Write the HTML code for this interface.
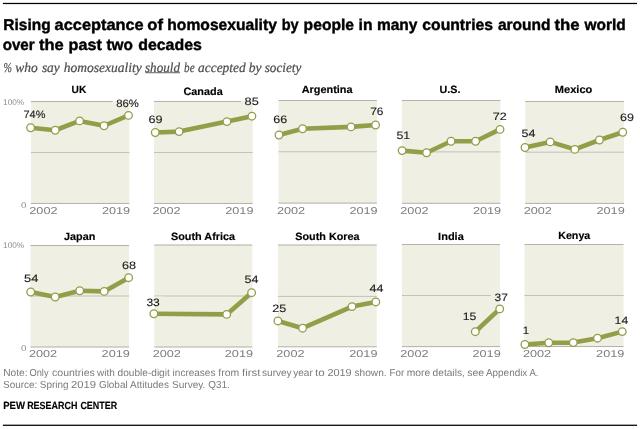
<!DOCTYPE html>
<html lang="en"><head><meta charset="utf-8"><title>Rising acceptance of homosexuality</title>
<style>html,body{margin:0;padding:0;background:#fff}body{width:640px;height:429px;overflow:hidden}svg{display:block;will-change:transform;filter:grayscale(0)}text{font-family:"Liberation Sans",sans-serif;text-rendering:geometricPrecision}.sf{font-family:"Liberation Serif",serif}</style></head><body>
<svg width="640" height="429" viewBox="0 0 640 429">
<rect x="0" y="0" width="640" height="429" fill="#ffffff"/>
<rect x="2.9" y="2.85" width="634.1" height="1.25" fill="#000"/>
<rect x="2.9" y="424.65" width="634.1" height="1.25" fill="#000"/>
<text y="29.7" font-size="15.7" font-weight="bold" fill="#000" stroke="#000" stroke-width="0.4" lengthAdjust="spacingAndGlyphs"><tspan x="3.30" textLength="47.30" lengthAdjust="spacingAndGlyphs">Rising</tspan> <tspan x="54.60" textLength="89.10" lengthAdjust="spacingAndGlyphs">acceptance</tspan> <tspan x="147.30" textLength="15.70" lengthAdjust="spacingAndGlyphs">of</tspan> <tspan x="167.30" textLength="109.55" lengthAdjust="spacingAndGlyphs">homosexuality</tspan> <tspan x="281.70" textLength="17.00" lengthAdjust="spacingAndGlyphs">by</tspan> <tspan x="303.60" textLength="50.50" lengthAdjust="spacingAndGlyphs">people</tspan> <tspan x="358.60" textLength="13.90" lengthAdjust="spacingAndGlyphs">in</tspan> <tspan x="376.95" textLength="40.55" lengthAdjust="spacingAndGlyphs">many</tspan> <tspan x="422.30" textLength="70.80" lengthAdjust="spacingAndGlyphs">countries</tspan> <tspan x="497.95" textLength="52.65" lengthAdjust="spacingAndGlyphs">around</tspan> <tspan x="554.45" textLength="25.15" lengthAdjust="spacingAndGlyphs">the</tspan> <tspan x="584.45" textLength="41.25" lengthAdjust="spacingAndGlyphs">world</tspan></text>
<text y="49.7" font-size="15.7" font-weight="bold" fill="#000" stroke="#000" stroke-width="0.4" lengthAdjust="spacingAndGlyphs"><tspan x="2.70" textLength="31.90" lengthAdjust="spacingAndGlyphs">over</tspan> <tspan x="38.95" textLength="24.75" lengthAdjust="spacingAndGlyphs">the</tspan> <tspan x="68.60" textLength="33.25" lengthAdjust="spacingAndGlyphs">past</tspan> <tspan x="106.50" textLength="26.50" lengthAdjust="spacingAndGlyphs">two</tspan> <tspan x="138.20" textLength="63.65" lengthAdjust="spacingAndGlyphs">decades</tspan></text>
<text y="71.6" class="sf" font-size="13.7" font-style="italic" fill="#4c4c4c" stroke="#4c4c4c" stroke-width="0.22" lengthAdjust="spacingAndGlyphs"><tspan x="3.60" textLength="8.40" lengthAdjust="spacingAndGlyphs">%</tspan> <tspan x="15.30" textLength="22.50" lengthAdjust="spacingAndGlyphs">who</tspan> <tspan x="41.90" textLength="17.80" lengthAdjust="spacingAndGlyphs">say</tspan> <tspan x="63.70" textLength="78.00" lengthAdjust="spacingAndGlyphs">homosexuality</tspan> <tspan x="145.00" textLength="35.00" lengthAdjust="spacingAndGlyphs">should</tspan> <tspan x="184.10" textLength="10.50" lengthAdjust="spacingAndGlyphs">be</tspan> <tspan x="198.10" textLength="47.50" lengthAdjust="spacingAndGlyphs">accepted</tspan> <tspan x="248.80" textLength="12.80" lengthAdjust="spacingAndGlyphs">by</tspan> <tspan x="264.70" textLength="36.60" lengthAdjust="spacingAndGlyphs">society</tspan></text>
<rect x="145.2" y="72.3" width="34.8" height="0.9" fill="#505050"/>
<g>
<rect x="30.9" y="101.5" width="98.50" height="101.95" fill="#f0efe4"/>
<rect x="30.9" y="100.98" width="98.50" height="1.04" fill="#b3b3a9"/>
<rect x="30.9" y="151.98" width="98.50" height="1.04" fill="#c3c3b9"/>
<rect x="30.9" y="202.93" width="98.50" height="1.04" fill="#b3b3a9"/>
<text x="71.60" y="93.20" font-size="10.6" font-weight="bold" fill="#000" stroke="#000" stroke-width="0.15" textLength="14.75" lengthAdjust="spacingAndGlyphs">UK</text>
<text x="29.30" y="214.20" font-size="10" fill="#7d7d7d" textLength="28.2" lengthAdjust="spacingAndGlyphs">2002</text>
<text x="101.90" y="214.20" font-size="10" fill="#7d7d7d" textLength="28.2" lengthAdjust="spacingAndGlyphs">2019</text>
<rect x="30.90" y="108.30" width="18.10" height="11.50" fill="#f0efe4"/>
<rect x="112.60" y="100.90" width="16.80" height="8.00" fill="#f0efe4"/>
<path d="M30.60 127.75 L55.25 130.25 L79.60 120.90 L104.05 125.75 L128.50 115.40" fill="none" stroke="#949d48" stroke-width="4.6" stroke-linejoin="round" stroke-linecap="round"/>
<circle cx="30.60" cy="127.75" r="3.8" fill="#fff" stroke="#949d48" stroke-width="1.3"/>
<circle cx="55.25" cy="130.25" r="3.8" fill="#fff" stroke="#949d48" stroke-width="1.3"/>
<circle cx="79.60" cy="120.90" r="3.8" fill="#fff" stroke="#949d48" stroke-width="1.3"/>
<circle cx="104.05" cy="125.75" r="3.8" fill="#fff" stroke="#949d48" stroke-width="1.3"/>
<circle cx="128.50" cy="115.40" r="3.8" fill="#fff" stroke="#949d48" stroke-width="1.3"/>
<text x="23.50" y="117.80" font-size="10.7" fill="#1a1a1a" stroke="#1a1a1a" stroke-width="0.12" textLength="21.90" lengthAdjust="spacingAndGlyphs">74%</text>
<text x="116.20" y="106.90" font-size="10.7" fill="#1a1a1a" stroke="#1a1a1a" stroke-width="0.12" textLength="22.70" lengthAdjust="spacingAndGlyphs">86%</text>
</g>
<g>
<rect x="154.05" y="101.45" width="98.70" height="102.00" fill="#f0efe4"/>
<rect x="154.05" y="100.93" width="98.70" height="1.04" fill="#b3b3a9"/>
<rect x="154.05" y="151.98" width="98.70" height="1.04" fill="#c3c3b9"/>
<rect x="154.05" y="202.93" width="98.70" height="1.04" fill="#b3b3a9"/>
<text x="183.50" y="94.60" font-size="10.6" font-weight="bold" fill="#000" stroke="#000" stroke-width="0.15" textLength="39.20" lengthAdjust="spacingAndGlyphs">Canada</text>
<text x="152.45" y="214.20" font-size="10" fill="#7d7d7d" textLength="28.2" lengthAdjust="spacingAndGlyphs">2002</text>
<text x="225.25" y="214.20" font-size="10" fill="#7d7d7d" textLength="28.2" lengthAdjust="spacingAndGlyphs">2019</text>
<rect x="154.05" y="113.30" width="12.20" height="11.50" fill="#f0efe4"/>
<rect x="241.00" y="100.85" width="11.75" height="5.90" fill="#f0efe4"/>
<path d="M155.25 132.50 L179.10 131.60 L226.90 121.60 L251.90 116.20" fill="none" stroke="#949d48" stroke-width="4.6" stroke-linejoin="round" stroke-linecap="round"/>
<circle cx="155.25" cy="132.50" r="3.8" fill="#fff" stroke="#949d48" stroke-width="1.3"/>
<circle cx="179.10" cy="131.60" r="3.8" fill="#fff" stroke="#949d48" stroke-width="1.3"/>
<circle cx="226.90" cy="121.60" r="3.8" fill="#fff" stroke="#949d48" stroke-width="1.3"/>
<circle cx="251.90" cy="116.20" r="3.8" fill="#fff" stroke="#949d48" stroke-width="1.3"/>
<text x="148.60" y="122.80" font-size="10.7" fill="#1a1a1a" stroke="#1a1a1a" stroke-width="0.12" textLength="14.05" lengthAdjust="spacingAndGlyphs">69</text>
<text x="244.60" y="104.75" font-size="10.7" fill="#1a1a1a" stroke="#1a1a1a" stroke-width="0.12" textLength="14.20" lengthAdjust="spacingAndGlyphs">85</text>
</g>
<g>
<rect x="278.5" y="100.5" width="98.40" height="102.60" fill="#f0efe4"/>
<rect x="278.5" y="99.98" width="98.40" height="1.04" fill="#b3b3a9"/>
<rect x="278.5" y="151.23" width="98.40" height="1.04" fill="#c3c3b9"/>
<rect x="278.5" y="202.58" width="98.40" height="1.04" fill="#b3b3a9"/>
<text x="301.70" y="93.20" font-size="10.6" font-weight="bold" fill="#000" stroke="#000" stroke-width="0.15" textLength="50.80" lengthAdjust="spacingAndGlyphs">Argentina</text>
<text x="276.90" y="214.20" font-size="10" fill="#7d7d7d" textLength="28.2" lengthAdjust="spacingAndGlyphs">2002</text>
<text x="349.40" y="214.20" font-size="10" fill="#7d7d7d" textLength="28.2" lengthAdjust="spacingAndGlyphs">2019</text>
<rect x="278.50" y="113.00" width="12.40" height="11.50" fill="#f0efe4"/>
<rect x="366.60" y="105.10" width="10.30" height="11.50" fill="#f0efe4"/>
<path d="M279.00 135.00 L302.50 128.75 L351.00 126.90 L375.60 125.00" fill="none" stroke="#949d48" stroke-width="4.6" stroke-linejoin="round" stroke-linecap="round"/>
<circle cx="279.00" cy="135.00" r="3.8" fill="#fff" stroke="#949d48" stroke-width="1.3"/>
<circle cx="302.50" cy="128.75" r="3.8" fill="#fff" stroke="#949d48" stroke-width="1.3"/>
<circle cx="351.00" cy="126.90" r="3.8" fill="#fff" stroke="#949d48" stroke-width="1.3"/>
<circle cx="375.60" cy="125.00" r="3.8" fill="#fff" stroke="#949d48" stroke-width="1.3"/>
<text x="273.35" y="122.50" font-size="10.7" fill="#1a1a1a" stroke="#1a1a1a" stroke-width="0.12" textLength="13.95" lengthAdjust="spacingAndGlyphs">66</text>
<text x="370.20" y="114.60" font-size="10.7" fill="#1a1a1a" stroke="#1a1a1a" stroke-width="0.12" textLength="13.30" lengthAdjust="spacingAndGlyphs">76</text>
</g>
<g>
<rect x="401.9" y="100.5" width="98.50" height="102.80" fill="#f0efe4"/>
<rect x="401.9" y="99.98" width="98.50" height="1.04" fill="#b3b3a9"/>
<rect x="401.9" y="151.38" width="98.50" height="1.04" fill="#c3c3b9"/>
<rect x="401.9" y="202.78" width="98.50" height="1.04" fill="#b3b3a9"/>
<text x="439.50" y="93.20" font-size="10.6" font-weight="bold" fill="#000" stroke="#000" stroke-width="0.15" textLength="20.90" lengthAdjust="spacingAndGlyphs">U.S.</text>
<text x="400.30" y="214.20" font-size="10" fill="#7d7d7d" textLength="28.2" lengthAdjust="spacingAndGlyphs">2002</text>
<text x="472.90" y="214.20" font-size="10" fill="#7d7d7d" textLength="28.2" lengthAdjust="spacingAndGlyphs">2019</text>
<rect x="401.90" y="129.25" width="11.85" height="11.50" fill="#f0efe4"/>
<rect x="489.10" y="110.25" width="11.30" height="11.50" fill="#f0efe4"/>
<path d="M402.10 150.60 L426.60 152.75 L451.05 141.25 L475.60 141.25 L500.00 129.40" fill="none" stroke="#949d48" stroke-width="4.6" stroke-linejoin="round" stroke-linecap="round"/>
<circle cx="402.10" cy="150.60" r="3.8" fill="#fff" stroke="#949d48" stroke-width="1.3"/>
<circle cx="426.60" cy="152.75" r="3.8" fill="#fff" stroke="#949d48" stroke-width="1.3"/>
<circle cx="451.05" cy="141.25" r="3.8" fill="#fff" stroke="#949d48" stroke-width="1.3"/>
<circle cx="475.60" cy="141.25" r="3.8" fill="#fff" stroke="#949d48" stroke-width="1.3"/>
<circle cx="500.00" cy="129.40" r="3.8" fill="#fff" stroke="#949d48" stroke-width="1.3"/>
<text x="396.50" y="138.75" font-size="10.7" fill="#1a1a1a" stroke="#1a1a1a" stroke-width="0.12" textLength="13.65" lengthAdjust="spacingAndGlyphs">51</text>
<text x="492.70" y="119.75" font-size="10.7" fill="#1a1a1a" stroke="#1a1a1a" stroke-width="0.12" textLength="13.95" lengthAdjust="spacingAndGlyphs">72</text>
</g>
<g>
<rect x="525.25" y="101.45" width="98.75" height="101.95" fill="#f0efe4"/>
<rect x="525.25" y="100.93" width="98.75" height="1.04" fill="#b3b3a9"/>
<rect x="525.25" y="151.68" width="98.75" height="1.04" fill="#c3c3b9"/>
<rect x="525.25" y="202.88" width="98.75" height="1.04" fill="#b3b3a9"/>
<text x="554.80" y="93.20" font-size="10.6" font-weight="bold" fill="#000" stroke="#000" stroke-width="0.15" textLength="37.50" lengthAdjust="spacingAndGlyphs">Mexico</text>
<text x="523.65" y="214.20" font-size="10" fill="#7d7d7d" textLength="28.2" lengthAdjust="spacingAndGlyphs">2002</text>
<text x="596.50" y="214.20" font-size="10" fill="#7d7d7d" textLength="28.2" lengthAdjust="spacingAndGlyphs">2019</text>
<rect x="525.25" y="127.00" width="13.75" height="11.50" fill="#f0efe4"/>
<rect x="616.40" y="111.40" width="7.60" height="11.50" fill="#f0efe4"/>
<path d="M525.00 147.50 L550.20 141.90 L574.80 149.40 L599.40 140.00 L622.75 132.25" fill="none" stroke="#949d48" stroke-width="4.6" stroke-linejoin="round" stroke-linecap="round"/>
<circle cx="525.00" cy="147.50" r="3.8" fill="#fff" stroke="#949d48" stroke-width="1.3"/>
<circle cx="550.20" cy="141.90" r="3.8" fill="#fff" stroke="#949d48" stroke-width="1.3"/>
<circle cx="574.80" cy="149.40" r="3.8" fill="#fff" stroke="#949d48" stroke-width="1.3"/>
<circle cx="599.40" cy="140.00" r="3.8" fill="#fff" stroke="#949d48" stroke-width="1.3"/>
<circle cx="622.75" cy="132.25" r="3.8" fill="#fff" stroke="#949d48" stroke-width="1.3"/>
<text x="521.50" y="136.50" font-size="10.7" fill="#1a1a1a" stroke="#1a1a1a" stroke-width="0.12" textLength="13.90" lengthAdjust="spacingAndGlyphs">54</text>
<text x="620.00" y="120.90" font-size="10.7" fill="#1a1a1a" stroke="#1a1a1a" stroke-width="0.12" textLength="13.90" lengthAdjust="spacingAndGlyphs">69</text>
</g>
<g>
<rect x="30.5" y="245.5" width="98.60" height="101.50" fill="#f0efe4"/>
<rect x="30.5" y="244.98" width="98.60" height="1.04" fill="#b3b3a9"/>
<rect x="30.5" y="295.48" width="98.60" height="1.04" fill="#c3c3b9"/>
<rect x="30.5" y="346.48" width="98.60" height="1.04" fill="#b3b3a9"/>
<text x="64.00" y="239.50" font-size="10.6" font-weight="bold" fill="#000" stroke="#000" stroke-width="0.15" textLength="31.35" lengthAdjust="spacingAndGlyphs">Japan</text>
<text x="28.90" y="357.35" font-size="10" fill="#7d7d7d" textLength="28.2" lengthAdjust="spacingAndGlyphs">2002</text>
<text x="101.60" y="357.35" font-size="10" fill="#7d7d7d" textLength="28.2" lengthAdjust="spacingAndGlyphs">2019</text>
<rect x="30.50" y="272.60" width="11.50" height="11.50" fill="#f0efe4"/>
<rect x="118.50" y="259.25" width="10.60" height="11.50" fill="#f0efe4"/>
<path d="M30.70 292.00 L55.20 297.00 L79.70 290.75 L104.20 291.40 L128.70 277.70" fill="none" stroke="#949d48" stroke-width="4.6" stroke-linejoin="round" stroke-linecap="round"/>
<circle cx="30.70" cy="292.00" r="3.8" fill="#fff" stroke="#949d48" stroke-width="1.3"/>
<circle cx="55.20" cy="297.00" r="3.8" fill="#fff" stroke="#949d48" stroke-width="1.3"/>
<circle cx="79.70" cy="290.75" r="3.8" fill="#fff" stroke="#949d48" stroke-width="1.3"/>
<circle cx="104.20" cy="291.40" r="3.8" fill="#fff" stroke="#949d48" stroke-width="1.3"/>
<circle cx="128.70" cy="277.70" r="3.8" fill="#fff" stroke="#949d48" stroke-width="1.3"/>
<text x="24.10" y="282.10" font-size="10.7" fill="#1a1a1a" stroke="#1a1a1a" stroke-width="0.12" textLength="14.30" lengthAdjust="spacingAndGlyphs">54</text>
<text x="122.10" y="268.75" font-size="10.7" fill="#1a1a1a" stroke="#1a1a1a" stroke-width="0.12" textLength="14.05" lengthAdjust="spacingAndGlyphs">68</text>
</g>
<g>
<rect x="154.3" y="245.0" width="98.00" height="102.00" fill="#f0efe4"/>
<rect x="154.3" y="244.48" width="98.00" height="1.04" fill="#b3b3a9"/>
<rect x="154.3" y="295.48" width="98.00" height="1.04" fill="#c3c3b9"/>
<rect x="154.3" y="346.48" width="98.00" height="1.04" fill="#b3b3a9"/>
<text x="170.90" y="239.50" font-size="10.6" font-weight="bold" fill="#000" stroke="#000" stroke-width="0.15" textLength="64.20" lengthAdjust="spacingAndGlyphs">South Africa</text>
<text x="152.70" y="357.35" font-size="10" fill="#7d7d7d" textLength="28.2" lengthAdjust="spacingAndGlyphs">2002</text>
<text x="224.80" y="357.35" font-size="10" fill="#7d7d7d" textLength="28.2" lengthAdjust="spacingAndGlyphs">2019</text>
<rect x="154.30" y="296.50" width="9.10" height="11.50" fill="#f0efe4"/>
<rect x="241.00" y="273.40" width="11.30" height="11.50" fill="#f0efe4"/>
<path d="M153.85 313.75 L226.70 314.40 L251.60 292.70" fill="none" stroke="#949d48" stroke-width="4.6" stroke-linejoin="round" stroke-linecap="round"/>
<circle cx="153.85" cy="313.75" r="3.8" fill="#fff" stroke="#949d48" stroke-width="1.3"/>
<circle cx="226.70" cy="314.40" r="3.8" fill="#fff" stroke="#949d48" stroke-width="1.3"/>
<circle cx="251.60" cy="292.70" r="3.8" fill="#fff" stroke="#949d48" stroke-width="1.3"/>
<text x="146.45" y="306.00" font-size="10.7" fill="#1a1a1a" stroke="#1a1a1a" stroke-width="0.12" textLength="13.35" lengthAdjust="spacingAndGlyphs">33</text>
<text x="244.60" y="282.90" font-size="10.7" fill="#1a1a1a" stroke="#1a1a1a" stroke-width="0.12" textLength="13.90" lengthAdjust="spacingAndGlyphs">54</text>
</g>
<g>
<rect x="277.9" y="245.0" width="98.85" height="101.80" fill="#f0efe4"/>
<rect x="277.9" y="244.48" width="98.85" height="1.04" fill="#b3b3a9"/>
<rect x="277.9" y="295.88" width="98.85" height="1.04" fill="#c3c3b9"/>
<rect x="277.9" y="346.28" width="98.85" height="1.04" fill="#b3b3a9"/>
<text x="295.30" y="239.50" font-size="10.6" font-weight="bold" fill="#000" stroke="#000" stroke-width="0.15" textLength="64.20" lengthAdjust="spacingAndGlyphs">South Korea</text>
<text x="276.30" y="357.35" font-size="10" fill="#7d7d7d" textLength="28.2" lengthAdjust="spacingAndGlyphs">2002</text>
<text x="349.25" y="357.35" font-size="10" fill="#7d7d7d" textLength="28.2" lengthAdjust="spacingAndGlyphs">2019</text>
<rect x="277.90" y="302.40" width="11.90" height="11.50" fill="#f0efe4"/>
<rect x="365.90" y="282.00" width="10.85" height="11.50" fill="#f0efe4"/>
<path d="M277.90 320.95 L302.60 328.20 L352.00 306.60 L375.80 301.95" fill="none" stroke="#949d48" stroke-width="4.6" stroke-linejoin="round" stroke-linecap="round"/>
<circle cx="277.90" cy="320.95" r="3.8" fill="#fff" stroke="#949d48" stroke-width="1.3"/>
<circle cx="302.60" cy="328.20" r="3.8" fill="#fff" stroke="#949d48" stroke-width="1.3"/>
<circle cx="352.00" cy="306.60" r="3.8" fill="#fff" stroke="#949d48" stroke-width="1.3"/>
<circle cx="375.80" cy="301.95" r="3.8" fill="#fff" stroke="#949d48" stroke-width="1.3"/>
<text x="272.15" y="311.90" font-size="10.7" fill="#1a1a1a" stroke="#1a1a1a" stroke-width="0.12" textLength="14.05" lengthAdjust="spacingAndGlyphs">25</text>
<text x="369.50" y="291.50" font-size="10.7" fill="#1a1a1a" stroke="#1a1a1a" stroke-width="0.12" textLength="13.90" lengthAdjust="spacingAndGlyphs">44</text>
</g>
<g>
<rect x="401.9" y="244.5" width="98.10" height="102.10" fill="#f0efe4"/>
<rect x="401.9" y="243.98" width="98.10" height="1.04" fill="#b3b3a9"/>
<rect x="401.9" y="294.98" width="98.10" height="1.04" fill="#c3c3b9"/>
<rect x="401.9" y="346.08" width="98.10" height="1.04" fill="#b3b3a9"/>
<text x="438.10" y="240.10" font-size="10.6" font-weight="bold" fill="#000" stroke="#000" stroke-width="0.15" textLength="25.70" lengthAdjust="spacingAndGlyphs">India</text>
<text x="400.30" y="357.35" font-size="10" fill="#7d7d7d" textLength="28.2" lengthAdjust="spacingAndGlyphs">2002</text>
<text x="472.50" y="357.35" font-size="10" fill="#7d7d7d" textLength="28.2" lengthAdjust="spacingAndGlyphs">2019</text>
<rect x="459.10" y="310.60" width="20.90" height="11.50" fill="#f0efe4"/>
<rect x="490.90" y="291.00" width="9.10" height="11.50" fill="#f0efe4"/>
<path d="M475.30 331.70 L499.75 308.90" fill="none" stroke="#949d48" stroke-width="4.6" stroke-linejoin="round" stroke-linecap="round"/>
<circle cx="475.30" cy="331.70" r="3.8" fill="#fff" stroke="#949d48" stroke-width="1.3"/>
<circle cx="499.75" cy="308.90" r="3.8" fill="#fff" stroke="#949d48" stroke-width="1.3"/>
<text x="462.70" y="320.10" font-size="10.7" fill="#1a1a1a" stroke="#1a1a1a" stroke-width="0.12" textLength="13.70" lengthAdjust="spacingAndGlyphs">15</text>
<text x="494.50" y="300.50" font-size="10.7" fill="#1a1a1a" stroke="#1a1a1a" stroke-width="0.12" textLength="13.30" lengthAdjust="spacingAndGlyphs">37</text>
</g>
<g>
<rect x="524.5" y="244.5" width="99.10" height="102.00" fill="#f0efe4"/>
<rect x="524.5" y="243.98" width="99.10" height="1.04" fill="#b3b3a9"/>
<rect x="524.5" y="294.98" width="99.10" height="1.04" fill="#c3c3b9"/>
<rect x="524.5" y="345.98" width="99.10" height="1.04" fill="#b3b3a9"/>
<text x="558.20" y="238.90" font-size="10.6" font-weight="bold" fill="#000" stroke="#000" stroke-width="0.15" textLength="32.10" lengthAdjust="spacingAndGlyphs">Kenya</text>
<text x="522.90" y="357.35" font-size="10" fill="#7d7d7d" textLength="28.2" lengthAdjust="spacingAndGlyphs">2002</text>
<text x="596.10" y="357.35" font-size="10" fill="#7d7d7d" textLength="28.2" lengthAdjust="spacingAndGlyphs">2019</text>
<rect x="524.50" y="324.50" width="8.20" height="11.50" fill="#f0efe4"/>
<rect x="611.00" y="314.10" width="12.60" height="11.50" fill="#f0efe4"/>
<path d="M524.90 344.50 L548.75 342.75 L573.30 342.60 L597.50 338.20 L622.25 331.60" fill="none" stroke="#949d48" stroke-width="4.6" stroke-linejoin="round" stroke-linecap="round"/>
<circle cx="524.90" cy="344.50" r="3.8" fill="#fff" stroke="#949d48" stroke-width="1.3"/>
<circle cx="548.75" cy="342.75" r="3.8" fill="#fff" stroke="#949d48" stroke-width="1.3"/>
<circle cx="573.30" cy="342.60" r="3.8" fill="#fff" stroke="#949d48" stroke-width="1.3"/>
<circle cx="597.50" cy="338.20" r="3.8" fill="#fff" stroke="#949d48" stroke-width="1.3"/>
<circle cx="622.25" cy="331.60" r="3.8" fill="#fff" stroke="#949d48" stroke-width="1.3"/>
<text x="522.70" y="334.00" font-size="10.7" fill="#1a1a1a" stroke="#1a1a1a" stroke-width="0.12" textLength="6.40" lengthAdjust="spacingAndGlyphs">1</text>
<text x="614.60" y="323.60" font-size="10.7" fill="#1a1a1a" stroke="#1a1a1a" stroke-width="0.12" textLength="13.60" lengthAdjust="spacingAndGlyphs">14</text>
</g>
<text x="3.1" y="105.10" font-size="8.2" fill="#8e8e8e" textLength="21" lengthAdjust="spacingAndGlyphs">100%</text>
<text x="21.1" y="207.65" font-size="8.2" fill="#8e8e8e" textLength="5.4" lengthAdjust="spacingAndGlyphs">0</text>
<text x="3.1" y="247.90" font-size="8.2" fill="#8e8e8e" textLength="21" lengthAdjust="spacingAndGlyphs">100%</text>
<text x="21.1" y="351.20" font-size="8.2" fill="#8e8e8e" textLength="5.4" lengthAdjust="spacingAndGlyphs">0</text>
<text y="375.5" font-size="10.2" fill="#7a7a7a" lengthAdjust="spacingAndGlyphs"><tspan x="3.25" textLength="24.35" lengthAdjust="spacingAndGlyphs">Note:</tspan> <tspan x="29.50" textLength="19.00" lengthAdjust="spacingAndGlyphs">Only</tspan> <tspan x="52.00" textLength="42.80" lengthAdjust="spacingAndGlyphs">countries</tspan> <tspan x="97.00" textLength="17.80" lengthAdjust="spacingAndGlyphs">with</tspan> <tspan x="117.60" textLength="52.20" lengthAdjust="spacingAndGlyphs">double-digit</tspan> <tspan x="172.60" textLength="42.80" lengthAdjust="spacingAndGlyphs">increases</tspan> <tspan x="218.25" textLength="20.90" lengthAdjust="spacingAndGlyphs">from</tspan> <tspan x="242.00" textLength="18.40" lengthAdjust="spacingAndGlyphs">first</tspan> <tspan x="262.00" textLength="29.65" lengthAdjust="spacingAndGlyphs">survey</tspan> <tspan x="293.25" textLength="19.55" lengthAdjust="spacingAndGlyphs">year</tspan> <tspan x="315.10" textLength="9.70" lengthAdjust="spacingAndGlyphs">to</tspan> <tspan x="327.40" textLength="24.25" lengthAdjust="spacingAndGlyphs">2019</tspan> <tspan x="354.50" textLength="32.15" lengthAdjust="spacingAndGlyphs">shown.</tspan> <tspan x="389.50" textLength="14.65" lengthAdjust="spacingAndGlyphs">For</tspan> <tspan x="406.75" textLength="23.40" lengthAdjust="spacingAndGlyphs">more</tspan> <tspan x="432.60" textLength="32.20" lengthAdjust="spacingAndGlyphs">details,</tspan> <tspan x="467.25" textLength="16.90" lengthAdjust="spacingAndGlyphs">see</tspan> <tspan x="486.00" textLength="41.30" lengthAdjust="spacingAndGlyphs">Appendix</tspan> <tspan x="529.50" textLength="9.00" lengthAdjust="spacingAndGlyphs">A.</tspan></text>
<text y="388.4" font-size="10.2" fill="#7a7a7a" lengthAdjust="spacingAndGlyphs"><tspan x="3.00" textLength="34.30" lengthAdjust="spacingAndGlyphs">Source:</tspan> <tspan x="39.80" textLength="28.70" lengthAdjust="spacingAndGlyphs">Spring</tspan> <tspan x="71.00" textLength="25.00" lengthAdjust="spacingAndGlyphs">2019</tspan> <tspan x="98.90" textLength="28.75" lengthAdjust="spacingAndGlyphs">Global</tspan> <tspan x="130.10" textLength="38.80" lengthAdjust="spacingAndGlyphs">Attitudes</tspan> <tspan x="172.00" textLength="33.40" lengthAdjust="spacingAndGlyphs">Survey.</tspan> <tspan x="208.25" textLength="21.55" lengthAdjust="spacingAndGlyphs">Q31.</tspan></text>
<text y="408.9" font-size="10.4" font-weight="bold" fill="#000" stroke="#000" stroke-width="0.15" lengthAdjust="spacingAndGlyphs"><tspan x="3.15" textLength="21.75" lengthAdjust="spacingAndGlyphs">PEW</tspan> <tspan x="27.15" textLength="50.25" lengthAdjust="spacingAndGlyphs">RESEARCH</tspan> <tspan x="80.40" textLength="36.80" lengthAdjust="spacingAndGlyphs">CENTER</tspan></text>
</svg></body></html>
